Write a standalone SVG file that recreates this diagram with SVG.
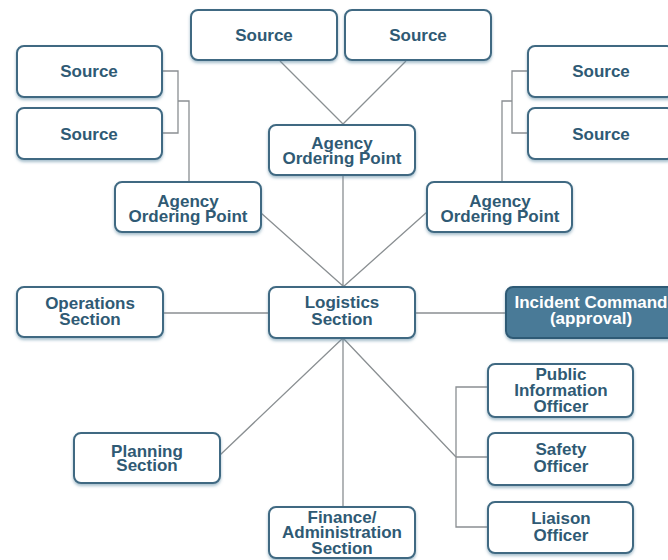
<svg xmlns="http://www.w3.org/2000/svg" width="668" height="560" viewBox="0 0 668 560">
<defs>
<filter id="sh" x="-10%" y="-20%" width="120%" height="150%">
<feGaussianBlur in="SourceAlpha" stdDeviation="1.6" result="b"/>
<feOffset dx="0" dy="1.5" in="b" result="o"/>
<feFlood flood-color="#5d8aa3" flood-opacity="0.55"/>
<feComposite in2="o" operator="in" result="s"/>
<feMerge><feMergeNode in="s"/><feMergeNode in="SourceGraphic"/></feMerge>
</filter>
</defs>
<style>
.box{fill:#ffffff;stroke:#3f6982;stroke-width:2;filter:url(#sh)}
.dark{fill:#4a7a97;stroke:#2f5a75;stroke-width:2;filter:url(#sh)}
text{font-family:"Liberation Sans",Arial,sans-serif;font-weight:bold;font-size:17px;fill:#2f5a74;text-anchor:middle}
.w{fill:#ffffff}
.c{fill:none;stroke:#8a8f92;stroke-width:1.3}
</style>
<rect width="668" height="560" fill="#ffffff"/>
<g id="connectors">
<path class="c" d="M162,71 H178 V133 H162 M178,101 H189 V182"/>
<path class="c" d="M528,71 H512 V133 H528 M512,101 H502 V182"/>
<path class="c" d="M280,61 L343,124 M406,61 L343,124"/>
<path class="c" d="M343,175 V287 M261,213 L343,286 M427,212 L343,287"/>
<path class="c" d="M163,313 H269 M415,313 H506"/>
<path class="c" d="M343,338 V507 M343,338 L220,455 M343,338 L456,457"/>
<path class="c" d="M488,387 H456 V527 H488 M456,457 H488"/>
</g>
<g id="source1"><rect class="box" x="191" y="10" width="146" height="50" rx="7"/><text x="264" y="41">Source</text></g>
<g id="source2"><rect class="box" x="345" y="10" width="146" height="50" rx="7"/><text x="418" y="41">Source</text></g>
<g id="source3"><rect class="box" x="17" y="46" width="145" height="51" rx="7"/><text x="89" y="77">Source</text></g>
<g id="source4"><rect class="box" x="17" y="108" width="145" height="51" rx="7"/><text x="89" y="140">Source</text></g>
<g id="source5"><rect class="box" x="528" y="46" width="146" height="51" rx="7"/><text x="601" y="77">Source</text></g>
<g id="source6"><rect class="box" x="528" y="108" width="146" height="51" rx="7"/><text x="601" y="140">Source</text></g>
<g id="aop-center"><rect class="box" x="269" y="125" width="146" height="50" rx="7"/><text x="342" y="149">Agency</text><text x="342" y="164">Ordering Point</text></g>
<g id="aop-left"><rect class="box" x="115" y="182" width="146" height="50" rx="7"/><text x="188" y="207">Agency</text><text x="188" y="222">Ordering Point</text></g>
<g id="aop-right"><rect class="box" x="427" y="182" width="145" height="50" rx="7"/><text x="500" y="207">Agency</text><text x="500" y="222">Ordering Point</text></g>
<g id="operations"><rect class="box" x="17" y="287" width="146" height="50" rx="7"/><text x="90" y="309">Operations</text><text x="90" y="325">Section</text></g>
<g id="logistics"><rect class="box" x="269" y="287" width="146" height="51" rx="7"/><text x="342" y="308">Logistics</text><text x="342" y="325">Section</text></g>
<g id="incident"><rect class="dark" x="506" y="287" width="172" height="51" rx="7"/><text class="w" x="591" y="308">Incident Command</text><text class="w" x="591" y="324">(approval)</text></g>
<g id="planning"><rect class="box" x="74" y="433" width="146" height="50" rx="7"/><text x="147" y="457">Planning</text><text x="147" y="471">Section</text></g>
<g id="finance"><rect class="box" x="269" y="507" width="146" height="51" rx="7"/><text x="342" y="523">Finance/</text><text x="342" y="538">Administration</text><text x="342" y="554">Section</text></g>
<g id="public-info"><rect class="box" x="488" y="364" width="145" height="53" rx="7"/><text x="561" y="380">Public</text><text x="561" y="396">Information</text><text x="561" y="412">Officer</text></g>
<g id="safety"><rect class="box" x="488" y="433" width="145" height="52" rx="7"/><text x="561" y="455">Safety</text><text x="561" y="472">Officer</text></g>
<g id="liaison"><rect class="box" x="488" y="502" width="145" height="51" rx="7"/><text x="561" y="524">Liaison</text><text x="561" y="541">Officer</text></g>
</svg>
